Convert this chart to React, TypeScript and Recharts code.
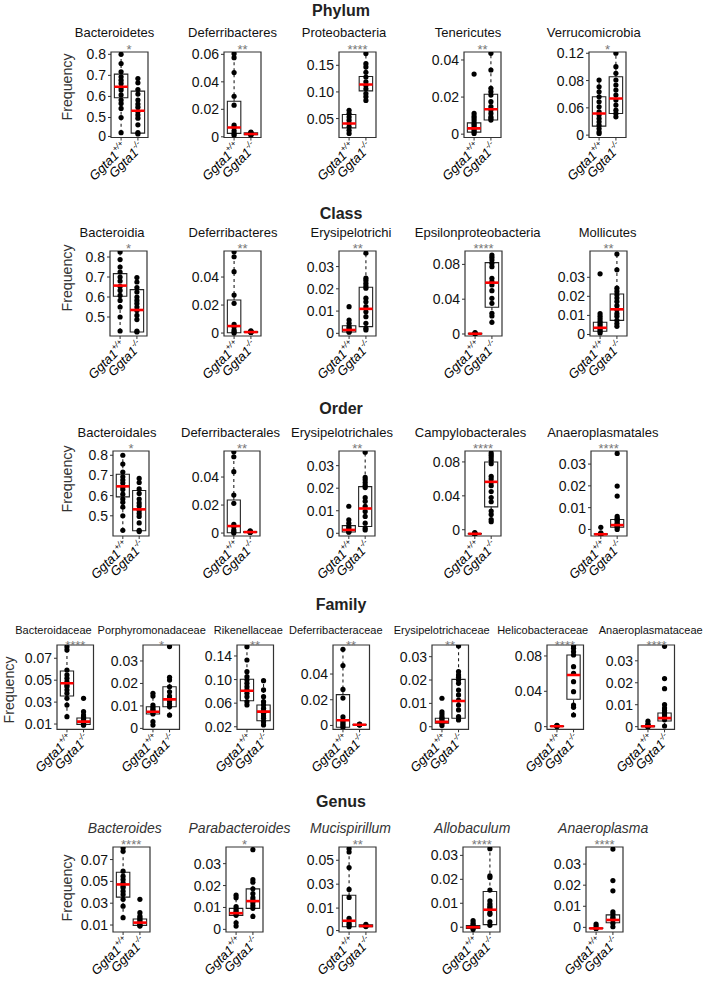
import React from "react";
import { ComposedChart, XAxis, YAxis, Scatter, ReferenceArea, ReferenceLine } from "recharts";

const FONT = "'Liberation Sans', Arial, Helvetica, sans-serif";

// x groups
const groupTicks = [1, 2];
const groupNames = ["Ggta1", "Ggta1"];
const groupSup = ["+/+", "-/-"];

// box stats are [lower whisker, q1, median, q3, upper whisker]

// Phylum
const bacteroidetesWT = [0.8, 0.756, 0.717, 0.693, 0.677, 0.662, 0.643, 0.63, 0.607, 0.583, 0.567, 0.543, 0.5, 0.428];
const bacteroidetesKO = [0.685, 0.665, 0.633, 0.611, 0.583, 0.564, 0.549, 0.528, 0.512, 0.497, 0.465, 0.428, 0.422];
const bacteroidetesBoxWT = [0.428, 0.594, 0.646, 0.706, 0.8];
const bacteroidetesBoxKO = [0.422, 0.426, 0.532, 0.625, 0.685];

const deferribacteresWT = [0.0605, 0.0576, 0.0467, 0.0295, 0.023, 0.0085, 0.0068, 0.0044, 0.0025, 0.0012];
const deferribacteresKO = [0.0035, 0.003, 0.0025, 0.002, 0.0018, 0.0015, 0.001];
const deferribacteresBoxWT = [0.0012, 0.0025, 0.0068, 0.0259, 0.0605];
const deferribacteresBoxKO = [0.001, 0.0015, 0.002, 0.003, 0.0035];

const proteobacteriaWT = [0.0656, 0.0594, 0.053, 0.0469, 0.0406, 0.0344, 0.028, 0.022];
const proteobacteriaKO = [0.172, 0.153, 0.147, 0.137, 0.128, 0.119, 0.1125, 0.106, 0.097, 0.091, 0.084];
const proteobacteriaBoxWT = [0.022, 0.0325, 0.0406, 0.0575, 0.0656];
const proteobacteriaBoxKO = [0.084, 0.102, 0.114, 0.129, 0.172];

const tenericutesWT = [0.0324, 0.0112, 0.0097, 0.0085, 0.0072, 0.0058, 0.0049, 0.0039, 0.0031, 0.0022, 0.0013, 0.0004];
const tenericutesKO = [0.0436, 0.0346, 0.0247, 0.0229, 0.0211, 0.0175, 0.0148, 0.013, 0.0112, 0.0094, 0.0085, 0.0076];
const tenericutesBoxWT = [0.0004, 0.0011, 0.0031, 0.0061, 0.0112];
const tenericutesBoxKO = [0.0076, 0.0076, 0.0134, 0.0215, 0.0436];

const verrucomicrobiaWT = [0.0906, 0.0832, 0.0777, 0.0722, 0.0666, 0.0611, 0.0556, 0.052, 0.0483, 0.0446, 0.041, 0.0373, 0.0336, 0.0318];
const verrucomicrobiaKO = [0.12, 0.1053, 0.098, 0.0906, 0.0851, 0.0795, 0.074, 0.0685, 0.063, 0.0574, 0.0538, 0.0501];
const verrucomicrobiaBoxWT = [0.0318, 0.0399, 0.0538, 0.0722, 0.0906];
const verrucomicrobiaBoxKO = [0.0501, 0.0538, 0.0703, 0.0942, 0.12];

// Class
const bacteroidiaWT = [0.825, 0.787, 0.75, 0.725, 0.7, 0.68, 0.653, 0.633, 0.608, 0.583, 0.55, 0.5, 0.43];
const bacteroidiaKO = [0.697, 0.675, 0.647, 0.625, 0.6, 0.583, 0.567, 0.55, 0.533, 0.508, 0.487, 0.43, 0.425];
const bacteroidiaBoxWT = [0.43, 0.6035, 0.657, 0.717, 0.825];
const bacteroidiaBoxKO = [0.425, 0.425, 0.535, 0.637, 0.697];

const deferriClassWT = [0.058, 0.0545, 0.0438, 0.0271, 0.0212, 0.0062, 0.0045, 0.0021, 0.0009, 0];
const deferriClassKO = [0.0015, 0.0012, 0.001, 0.0008, 0.0006, 0.0004];
const deferriClassBoxWT = [0, 0.0002, 0.005, 0.0236, 0.058];
const deferriClassBoxKO = [0.0004, 0.0005, 0.0007, 0.001, 0.0015];

const erysipelotrichiWT = [0.012, 0.006, 0.0045, 0.003, 0.0023, 0.0015, 0.0007, 0.0005];
const erysipelotrichiKO = [0.036, 0.0248, 0.0237, 0.0225, 0.0213, 0.0203, 0.0158, 0.0142, 0.012, 0.0097, 0.0075, 0.0045, 0.0023, 0.0015];
const erysipelotrichiBoxWT = [0.0005, 0.0006, 0.0015, 0.0034, 0.006];
const erysipelotrichiBoxKO = [0.0015, 0.003, 0.011, 0.0207, 0.036];

const epsilonWT = [0.0015, 0.001, 0.0005, 0.0003, 0.0002, 0.0001];
const epsilonKO = [0.0908, 0.0881, 0.0851, 0.0812, 0.0774, 0.064, 0.0601, 0.0563, 0.0498, 0.041, 0.0353, 0.0238, 0.0207, 0.0134];
const epsilonBoxWT = [0.0001, 0.0001, 0.0003, 0.0008, 0.0015];
const epsilonBoxKO = [0.0134, 0.0307, 0.059, 0.082, 0.0908];

const mollicutesWT = [0.0318, 0.0109, 0.0095, 0.0082, 0.0069, 0.0057, 0.0047, 0.0035, 0.0026, 0.0017, 0.0008];
const mollicutesKO = [0.0422, 0.0339, 0.0243, 0.0226, 0.0208, 0.0191, 0.0173, 0.0151, 0.013, 0.0109, 0.0095, 0.0074, 0.0057, 0.0043];
const mollicutesBoxWT = [0.0008, 0.0017, 0.0035, 0.0064, 0.0109];
const mollicutesBoxKO = [0.0043, 0.0074, 0.0132, 0.0212, 0.0422];

// Order (Bacteroidales, Deferribacterales, Erysipelotrichales reuse the sets above)
const campyloWT = [-0.0035, -0.004, -0.0045, -0.005, -0.005, -0.0055];
const campyloKO = [0.0905, 0.088, 0.085, 0.082, 0.078, 0.063, 0.06, 0.056, 0.052, 0.045, 0.038, 0.033, 0.022, 0.018, 0.012, 0.0094];
const campyloBoxWT = [-0.0055, -0.005, -0.0048, -0.0045, -0.0035];
const campyloBoxKO = [0.0094, 0.027, 0.0565, 0.08, 0.0905];

const anaeroOrderWT = [0.001, -0.0015, -0.002, -0.002, -0.0022, -0.0025];
const anaeroOrderKO = [0.0349, 0.0199, 0.0153, 0.006, 0.005, 0.0045, 0.004, 0.003, 0.0025, 0.002, 0.0015, 0.001, 0];
const anaeroOrderBoxWT = [-0.0025, -0.0022, -0.0022, -0.002, -0.0015];
const anaeroOrderBoxKO = [0, 0.001, 0.002, 0.0046, 0.006];

// Family
const bacteroidaceaeWT = [0.0806, 0.0776, 0.0593, 0.0548, 0.0517, 0.0486, 0.0456, 0.0441, 0.041, 0.038, 0.0335, 0.0273, 0.0167];
const bacteroidaceaeKO = [0.0335, 0.0213, 0.0182, 0.0167, 0.0152, 0.0137, 0.0122, 0.0106, 0.0095, 0.009];
const bacteroidaceaeBoxWT = [0.0167, 0.0356, 0.0472, 0.0584, 0.0806];
const bacteroidaceaeBoxKO = [0.009, 0.0097, 0.0122, 0.0155, 0.0213];

const porphyroWT = [0.0156, 0.0144, 0.0104, 0.0094, 0.0085, 0.0078, 0.007, 0.0064, 0.003, 0.0015];
const porphyroKO = [0.0364, 0.0227, 0.0215, 0.0185, 0.0163, 0.0144, 0.0134, 0.0122, 0.0108, 0.0096, 0.0059];
const porphyroBoxWT = [0.003, 0.0064, 0.0074, 0.0096, 0.0144];
const porphyroBoxKO = [0.0059, 0.0096, 0.0129, 0.0185, 0.0227];

const rikenWT = [0.1558, 0.1332, 0.1134, 0.1049, 0.0993, 0.0937, 0.088, 0.0824, 0.0768, 0.071, 0.0626, 0.057];
const rikenKO = [0.0981, 0.0824, 0.071, 0.0626, 0.057, 0.0514, 0.0473, 0.0429, 0.0383, 0.0344, 0.0287, 0.0231];
const rikenBoxWT = [0.057, 0.0642, 0.081, 0.1005, 0.1558];
const rikenBoxKO = [0.0231, 0.0303, 0.0456, 0.057, 0.0981];

const deferriFamilyWT = [0.0592, 0.0466, 0.028, 0.0213, 0.0066, 0.004, 0.0026, 0.0013, 0, -0.0014];
const deferriFamilyKO = [0.001, 0.0008, 0.0005, 0.0003];
const deferriFamilyBoxWT = [-0.0014, -0.0014, 0.004, 0.024, 0.0592];
const deferriFamilyBoxKO = [0.0003, 0.0003, 0.0005, 0.0008, 0.001];

const erysiFamilyWT = [0.0122, 0.0064, 0.0054, 0.0043, 0.0036, 0.0029, 0.0021, 0.0015, 0.0005];
const erysiFamilyKO = [0.0346, 0.0236, 0.0222, 0.0212, 0.02, 0.0186, 0.0157, 0.0136, 0.0114, 0.0093, 0.0072, 0.0043, 0.0029];
const erysiFamilyBoxWT = [0.0005, 0.0015, 0.0021, 0.0036, 0.0064];
const erysiFamilyBoxKO = [0.0029, 0.0036, 0.011, 0.0203, 0.0346];

const helicoWT = [0.0015, 0.001, 0.0005, 0.0002];
const helicoKO = [0.0913, 0.0887, 0.0848, 0.0811, 0.0679, 0.0604, 0.0509, 0.0396, 0.0245, 0.0219, 0.0132];
const helicoBoxWT = [0.0002, 0.0002, 0.0004, 0.0008, 0.0015];
const helicoBoxKO = [0.0132, 0.031, 0.0585, 0.0811, 0.0913];

const anaeroFamilyWT = [0.0025, 0.0012, 0.0008, 0.0004, 0.0002, 0, 0];
const anaeroFamilyKO = [0.0366, 0.0219, 0.0173, 0.01, 0.0085, 0.0074, 0.0065, 0.0054, 0.0043, 0.0031, 0.0003];
const anaeroFamilyBoxWT = [0, 0, 0.0002, 0.0004, 0.0012];
const anaeroFamilyBoxKO = [0.0003, 0.0026, 0.0039, 0.0062, 0.01];

// Genus (Bacteroides, Parabacteroides reuse the family sets)
const mucispirillumWT = [0.0597, 0.0569, 0.0439, 0.0256, 0.0189, 0.0014, -0.0006, -0.0028, -0.0042, -0.0056];
const mucispirillumKO = [-0.0035, -0.0045, -0.005, -0.0055];
const mucispirillumBoxWT = [-0.0056, -0.0056, -0.0006, 0.0208, 0.0597];
const mucispirillumBoxKO = [-0.0055, -0.0055, -0.005, -0.004, -0.0035];

const allobaculumWT = [0.0028, 0.0018, 0.0011, 0.0004, -0.0003, -0.001];
const allobaculumKO = [0.0328, 0.0215, 0.0208, 0.0155, 0.011, 0.0098, 0.0089, 0.0082, 0.0075, 0.006, 0.0054, 0.0022, 0.0008];
const allobaculumBoxWT = [-0.001, -0.0005, 0, 0.0007, 0.0018];
const allobaculumBoxKO = [0.0008, 0.0011, 0.0073, 0.0149, 0.0328];

const anaeroplasmaWT = [0.0016, 0.0006, -0.0005, -0.0005];
const anaeroplasmaKO = [0.0371, 0.0222, 0.0173, 0.0074, 0.0063, 0.005, 0.0043, 0.0035, 0.0019, 0.0003];
const anaeroplasmaBoxWT = [-0.0005, -0.0005, -0.0005, -0.0003, 0.0006];
const anaeroplasmaBoxKO = [0.0003, 0.0022, 0.0035, 0.0059, 0.0074];

// axis ticks
const ticks0to3 = [0, 0.01, 0.02, 0.03];
const ticks0to4 = [0, 0.02, 0.04];
const ticks0to8 = [0, 0.04, 0.08];
const ticksBact = [0.5, 0.6, 0.7, 0.8];
const ticksBacteroidetes = [0.41, 0.5, 0.6, 0.7, 0.8];
const labelsBacteroidetes = ["0", "0.5", "0.6", "0.7", "0.8"];
const ticksDeferri = [0, 0.02, 0.04, 0.06];
const ticksProteo = [0.05, 0.1, 0.15];
const labelsProteo = ["0.05", "0.10", "0.15"];
const ticksTeneri = [0, 0.02, 0.04];
const ticksVerruco = [0.03, 0.06, 0.09, 0.12];
const labelsVerruco = ["0", "0.06", "0.08", "0.12"];
const ticksBacteroidaceae = [0.01, 0.03, 0.05, 0.07];
const ticksRiken = [0.02, 0.06, 0.1, 0.14];
const labelsRiken = ["0.02", "0.06", "0.10", "0.14"];
const ticksMucis = [-0.0088, 0.01, 0.03, 0.05];
const labelsMucis = ["0", "0.01", "0.03", "0.05"];

interface Spec {
  title: string;
  stars: string;
  wt: number[];
  ko: number[];
  boxWT: number[];
  boxKO: number[];
  domain: number[];
  ticks: number[];
  labels?: string[];
}

const phylum: Spec[] = [
  { title: "Bacteroidetes", stars: "*", wt: bacteroidetesWT, ko: bacteroidetesKO, boxWT: bacteroidetesBoxWT, boxKO: bacteroidetesBoxKO, domain: [0.405, 0.811], ticks: ticksBacteroidetes, labels: labelsBacteroidetes },
  { title: "Deferribacteres", stars: "**", wt: deferribacteresWT, ko: deferribacteresKO, boxWT: deferribacteresBoxWT, boxKO: deferribacteresBoxKO, domain: [-0.0005, 0.0617], ticks: ticksDeferri },
  { title: "Proteobacteria", stars: "****", wt: proteobacteriaWT, ko: proteobacteriaKO, boxWT: proteobacteriaBoxWT, boxKO: proteobacteriaBoxKO, domain: [0.0144, 0.175], ticks: ticksProteo, labels: labelsProteo },
  { title: "Tenericutes", stars: "**", wt: tenericutesWT, ko: tenericutesKO, boxWT: tenericutesBoxWT, boxKO: tenericutesBoxKO, domain: [-0.0018, 0.0443], ticks: ticksTeneri },
  { title: "Verrucomicrobia", stars: "*", wt: verrucomicrobiaWT, ko: verrucomicrobiaKO, boxWT: verrucomicrobiaBoxWT, boxKO: verrucomicrobiaBoxKO, domain: [0.0274, 0.1214], ticks: ticksVerruco, labels: labelsVerruco },
];

const klass: Spec[] = [
  { title: "Bacteroidia", stars: "*", wt: bacteroidiaWT, ko: bacteroidiaKO, boxWT: bacteroidiaBoxWT, boxKO: bacteroidiaBoxKO, domain: [0.405, 0.83], ticks: ticksBact },
  { title: "Deferribacteres", stars: "**", wt: deferriClassWT, ko: deferriClassKO, boxWT: deferriClassBoxWT, boxKO: deferriClassBoxKO, domain: [-0.0021, 0.0586], ticks: ticks0to4 },
  { title: "Erysipelotrichi", stars: "**", wt: erysipelotrichiWT, ko: erysipelotrichiKO, boxWT: erysipelotrichiBoxWT, boxKO: erysipelotrichiBoxKO, domain: [-0.0012, 0.037], ticks: ticks0to3 },
  { title: "Epsilonproteobacteria", stars: "****", wt: epsilonWT, ko: epsilonKO, boxWT: epsilonBoxWT, boxKO: epsilonBoxKO, domain: [-0.0023, 0.0954], ticks: ticks0to8 },
  { title: "Mollicutes", stars: "**", wt: mollicutesWT, ko: mollicutesKO, boxWT: mollicutesBoxWT, boxKO: mollicutesBoxKO, domain: [-0.0008, 0.0438], ticks: ticks0to3 },
];

const order: Spec[] = [
  { title: "Bacteroidales", stars: "*", wt: bacteroidetesWT, ko: bacteroidetesKO, boxWT: bacteroidetesBoxWT, boxKO: bacteroidetesBoxKO, domain: [0.4, 0.821], ticks: ticksBact },
  { title: "Deferribacterales", stars: "**", wt: deferriClassWT, ko: deferriClassKO, boxWT: deferriClassBoxWT, boxKO: deferriClassBoxKO, domain: [-0.0021, 0.0586], ticks: ticks0to4 },
  { title: "Erysipelotrichales", stars: "**", wt: erysipelotrichiWT, ko: erysipelotrichiKO, boxWT: erysipelotrichiBoxWT, boxKO: erysipelotrichiBoxKO, domain: [-0.0012, 0.0365], ticks: ticks0to3 },
  { title: "Campylobacterales", stars: "****", wt: campyloWT, ko: campyloKO, boxWT: campyloBoxWT, boxKO: campyloBoxKO, domain: [-0.0074, 0.0929], ticks: ticks0to8 },
  { title: "Anaeroplasmatales", stars: "****", wt: anaeroOrderWT, ko: anaeroOrderKO, boxWT: anaeroOrderBoxWT, boxKO: anaeroOrderBoxKO, domain: [-0.003, 0.036], ticks: ticks0to3 },
];

const family: Spec[] = [
  { title: "Bacteroidaceae", stars: "****", wt: bacteroidaceaeWT, ko: bacteroidaceaeKO, boxWT: bacteroidaceaeBoxWT, boxKO: bacteroidaceaeBoxKO, domain: [0.0052, 0.0821], ticks: ticksBacteroidaceae },
  { title: "Porphyromonadaceae", stars: "*", wt: porphyroWT, ko: porphyroKO, boxWT: porphyroBoxWT, boxKO: porphyroBoxKO, domain: [-0.0004, 0.0371], ticks: ticks0to3 },
  { title: "Rikenellaceae", stars: "**", wt: rikenWT, ko: rikenKO, boxWT: rikenBoxWT, boxKO: rikenBoxKO, domain: [0.0157, 0.1586], ticks: ticksRiken, labels: labelsRiken },
  { title: "Deferribacteraceae", stars: "**", wt: deferriFamilyWT, ko: deferriFamilyKO, boxWT: deferriFamilyBoxWT, boxKO: deferriFamilyBoxKO, domain: [-0.003, 0.0626], ticks: ticks0to4 },
  { title: "Erysipelotrichaceae", stars: "**", wt: erysiFamilyWT, ko: erysiFamilyKO, boxWT: erysiFamilyBoxWT, boxKO: erysiFamilyBoxKO, domain: [-0.0011, 0.035], ticks: ticks0to3 },
  { title: "Helicobacteraceae", stars: "****", wt: helicoWT, ko: helicoKO, boxWT: helicoBoxWT, boxKO: helicoBoxKO, domain: [-0.003, 0.0924], ticks: ticks0to8 },
  { title: "Anaeroplasmataceae", stars: "****", wt: anaeroFamilyWT, ko: anaeroFamilyKO, boxWT: anaeroFamilyBoxWT, boxKO: anaeroFamilyBoxKO, domain: [-0.0012, 0.0372], ticks: ticks0to3 },
];

const genus: Spec[] = [
  { title: "Bacteroides", stars: "****", wt: bacteroidaceaeWT, ko: bacteroidaceaeKO, boxWT: bacteroidaceaeBoxWT, boxKO: bacteroidaceaeBoxKO, domain: [0.0036, 0.0815], ticks: ticksBacteroidaceae },
  { title: "Parabacteroides", stars: "*", wt: porphyroWT, ko: porphyroKO, boxWT: porphyroBoxWT, boxKO: porphyroBoxKO, domain: [-0.0012, 0.0376], ticks: ticks0to3 },
  { title: "Mucispirillum", stars: "**", wt: mucispirillumWT, ko: mucispirillumKO, boxWT: mucispirillumBoxWT, boxKO: mucispirillumBoxKO, domain: [-0.01, 0.0611], ticks: ticksMucis, labels: labelsMucis },
  { title: "Allobaculum", stars: "****", wt: allobaculumWT, ko: allobaculumKO, boxWT: allobaculumBoxWT, boxKO: allobaculumBoxKO, domain: [-0.002, 0.0335], ticks: ticks0to3 },
  { title: "Anaeroplasma", stars: "****", wt: anaeroplasmaWT, ko: anaeroplasmaKO, boxWT: anaeroplasmaBoxWT, boxKO: anaeroplasmaBoxKO, domain: [-0.0022, 0.0381], ticks: ticks0to3 },
];

// layout of the five rows
const rows = [
  { name: "Phylum", specs: phylum, titleY: 11, subY: 32, starDy: -3, top: 52, h: 85.5, fw: 37, freq: [67, 87], size: 13, italic: false, lefts: [110.5, 224, 339, 464, 589], titleX: [114.5, 232.5, 344, 468, 593.7] },
  { name: "Class", specs: klass, titleY: 214, subY: 232, starDy: -3, top: 251, h: 85, fw: 37, freq: [67, 278], size: 13, italic: false, lefts: [110, 224, 339.3, 465, 590], titleX: [112, 233, 351, 477.7, 607.7] },
  { name: "Order", specs: order, titleY: 409, subY: 432, starDy: -3, top: 451, h: 85, fw: 36, freq: [67, 479], size: 13, italic: false, lefts: [113, 224, 339.3, 465, 590.7], titleX: [117, 230.5, 342, 470.5, 602.8] },
  { name: "Family", specs: family, titleY: 605, subY: 630, starDy: -0.5, top: 645, h: 84.3, fw: 36.5, freq: [9, 690], size: 11, italic: false, lefts: [57, 143.3, 236.7, 332.7, 431.7, 546.7, 638.3], titleX: [53.5, 151.7, 248.3, 335.8, 441.7, 542.7, 650.7] },
  { name: "Genus", specs: genus, titleY: 802, subY: 828, starDy: -3, top: 847, h: 85, fw: 37, freq: [67, 888], size: 14, italic: true, lefts: [112.7, 226, 339.3, 463.3, 586], titleX: [124.8, 239.5, 350.5, 472.2, 603.2] },
];

const YW = 50;
const MT = 6;
const MR = 6;
const XH = 62;
const BOX_HALF = 0.4;

const GroupTick = (props: any) => {
  const { x, y, payload } = props;
  const i = groupTicks.indexOf(payload.value);
  return (
    <g transform={`translate(${x},${y})`}>
      <text
        transform="rotate(-45)"
        textAnchor="end"
        dy="0.72em"
        fontSize={13}
        fontStyle="italic"
        fontFamily={FONT}
        fill="#000"
      >
        {groupNames[i]}
        <tspan fontSize={8} dy={-6} fontStyle="italic">
          {groupSup[i]}
        </tspan>
      </text>
    </g>
  );
};

const BoxPanel = ({ spec, left, top, fw, fh }: { spec: Spec; left: number; top: number; fw: number; fh: number }) => {
  const points = [...spec.wt.map((y) => ({ x: 1, y })), ...spec.ko.map((y) => ({ x: 2, y }))];
  const medians = [
    { x: 1, y: spec.boxWT[2] },
    { x: 2, y: spec.boxKO[2] },
  ];
  const half = (BOX_HALF * fw) / 2.2;
  const groups = [
    { x: 1, b: spec.boxWT },
    { x: 2, b: spec.boxKO },
  ];
  const fmt = (v: number) => {
    const i = spec.ticks.indexOf(v);
    return spec.labels ? spec.labels[i] : String(v);
  };
  return (
    <div style={{ position: "absolute", left: left - YW, top: top - MT }}>
      <ComposedChart width={YW + fw + MR} height={MT + fh + XH} margin={{ top: MT, right: MR, bottom: 0, left: 0 }}>
        <XAxis
          type="number"
          dataKey="x"
          domain={[0.4, 2.6]}
          ticks={groupTicks}
          interval={0}
          allowDataOverflow
          height={XH}
          axisLine={false}
          tickLine={{ stroke: "#333" }}
          tickSize={3}
          tickMargin={1}
          tick={<GroupTick />}
        />
        <YAxis
          type="number"
          dataKey="y"
          domain={spec.domain}
          ticks={spec.ticks}
          interval={0}
          allowDataOverflow
          width={YW}
          axisLine={false}
          tickLine={{ stroke: "#333" }}
          tickSize={3}
          tickMargin={2}
          tickFormatter={fmt}
          tick={{ fontSize: 14, fill: "#111", fontFamily: FONT }}
        />
        {groups.map((g) => (
          <ReferenceLine
            key={`lo${g.x}`}
            segment={[
              { x: g.x, y: g.b[0] },
              { x: g.x, y: g.b[1] },
            ]}
            stroke="#222"
            strokeWidth={1.1}
            strokeDasharray="3 3"
          />
        ))}
        {groups.map((g) => (
          <ReferenceLine
            key={`hi${g.x}`}
            segment={[
              { x: g.x, y: g.b[3] },
              { x: g.x, y: g.b[4] },
            ]}
            stroke="#222"
            strokeWidth={1.1}
            strokeDasharray="3 3"
          />
        ))}
        {groups.map((g) => (
          <ReferenceArea
            key={`box${g.x}`}
            x1={g.x - BOX_HALF}
            x2={g.x + BOX_HALF}
            y1={g.b[1]}
            y2={g.b[3]}
            fill="#fff"
            fillOpacity={0}
            stroke="#222"
            strokeWidth={1.1}
            ifOverflow="extendDomain"
          />
        ))}
        <ReferenceArea
          x1={0.4}
          x2={2.6}
          y1={spec.domain[0]}
          y2={spec.domain[1]}
          fill="none"
          stroke="#333"
          strokeWidth={1.2}
          ifOverflow="visible"
        />
        <Scatter
          data={points}
          isAnimationActive={false}
          shape={(p: any) => <circle cx={p.cx} cy={p.cy} r={2.6} fill="#000" />}
        />
        <Scatter
          data={medians}
          isAnimationActive={false}
          shape={(p: any) => (
            <line x1={p.cx - half} x2={p.cx + half} y1={p.cy} y2={p.cy} stroke="#ff0000" strokeWidth={2.6} />
          )}
        />
      </ComposedChart>
    </div>
  );
};

const center: React.CSSProperties = {
  position: "absolute",
  transform: "translate(-50%, -50%)",
  whiteSpace: "nowrap",
  lineHeight: 1,
  fontFamily: FONT,
};

export default function App() {
  return (
    <div style={{ position: "absolute", left: 0, top: 0, width: 708, height: 986, background: "#fff", overflow: "hidden" }}>
      {rows.map((row) => (
        <React.Fragment key={row.name}>
          <div style={{ ...center, left: 341, top: row.titleY, fontSize: 16, fontWeight: "bold", color: "#222" }}>{row.name}</div>
          <div
            style={{
              ...center,
              left: row.freq[0],
              top: row.freq[1],
              fontSize: 14.2,
              color: "#333",
              transform: "translate(-50%, -50%) rotate(-90deg)",
            }}
          >
            Frequency
          </div>
          {row.specs.map((spec, i) => (
            <React.Fragment key={spec.title + i}>
              <div
                style={{
                  ...center,
                  left: row.titleX[i],
                  top: row.subY,
                  fontSize: row.size,
                  fontStyle: row.italic ? "italic" : "normal",
                  color: row.italic ? "#333" : "#111",
                }}
              >
                {spec.title}
              </div>
              <BoxPanel spec={spec} left={row.lefts[i]} top={row.top} fw={row.fw} fh={row.h} />
              <div
                style={{
                  ...center,
                  left: row.lefts[i] + row.fw / 2,
                  top: row.top + row.starDy,
                  fontSize: 13,
                  lineHeight: "11px",
                  color: "#777",
                }}
              >
                {spec.stars}
              </div>
            </React.Fragment>
          ))}
        </React.Fragment>
      ))}
    </div>
  );
}
